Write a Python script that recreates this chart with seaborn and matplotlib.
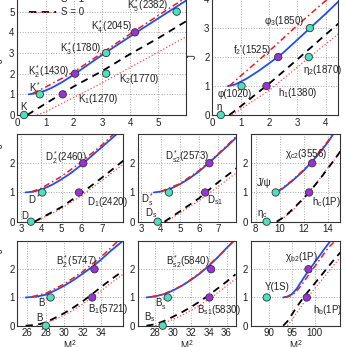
import matplotlib
matplotlib.use("Agg")
import matplotlib.pyplot as plt
import pandas as pd
import seaborn as sns

# Regge trajectories: (M^2, J) pairs
# S = 1: solid blue and dash-dot red, S = 0: dashed black and dotted red
K_S1_SOLID = [(0.4, 1.0), (0.8, 1.08), (1.2, 1.3), (1.6, 1.6), (2.0, 1.95), (3.0, 2.9), (4.0, 3.8), (5.0, 4.68), (6.0, 5.55)]
K_S1_DASHDOT = [(0.55, 1.05), (1.0, 1.35), (2.0, 2.08), (3.0, 3.0), (4.0, 3.92), (5.0, 4.82), (6.0, 5.7)]
K_S0_DASHED = [(0.35, 0.0), (1.0, 0.55), (2.0, 1.38), (3.0, 2.12), (4.0, 2.95), (5.0, 3.72), (6.0, 4.55)]
K_S0_DOTTED = [(0.7, 0.0), (1.0, 0.15), (2.0, 0.85), (3.0, 1.55), (4.0, 2.3), (5.0, 3.05), (6.0, 3.8)]
K_M2 = [0.24, 0.8, 2.05, 3.15, 4.17, 5.65, 1.61, 3.15]
K_J = [0, 1, 2, 3, 4, 5, 1, 2]
K_KIND = ["c", "c", "p", "c", "p", "c", "p", "c"]

ETA_S1_SOLID = [(0.55, 1.0), (0.8, 1.05), (1.2, 1.25), (1.6, 1.5), (2.0, 1.78), (2.5, 2.15), (3.0, 2.6), (3.5, 3.05), (4.0, 3.5), (4.5, 3.97)]
ETA_S1_DASHDOT = [(0.6, 1.0), (1.0, 1.35), (2.0, 2.2), (3.0, 3.1), (4.0, 3.95), (4.5, 4.38)]
ETA_S0_DASHED = [(0.6, 0.0), (1.0, 0.3), (2.0, 1.08), (3.0, 1.92), (4.0, 2.78), (4.5, 3.2)]
ETA_S0_DOTTED = [(0.7, 0.0), (1.0, 0.2), (2.0, 0.85), (3.0, 1.65), (3.4, 1.98), (4.0, 2.45), (4.5, 2.84)]
ETA_M2 = [0.3, 1.03, 2.32, 3.44, 1.91, 3.4]
ETA_J = [0, 1, 2, 3, 1, 2]
ETA_KIND = ["c", "c", "p", "c", "p", "c"]

D_S1_SOLID = [(3.2, 1.0), (3.6, 1.03), (4.0, 1.1), (4.5, 1.25), (5.0, 1.45), (5.5, 1.68), (6.0, 1.95), (6.5, 2.25), (7.0, 2.55), (7.5, 2.85), (7.75, 3.0)]
D_S1_DASHDOT = [(3.5, 1.02), (4.0, 1.15), (5.0, 1.55), (6.0, 2.05), (7.0, 2.62), (7.6, 3.0)]
D_S0_DASHED = [(3.65, 0.0), (4.0, 0.13), (5.0, 0.5), (6.0, 0.98), (7.0, 1.5), (8.1, 2.1)]
D_S0_DOTTED = [(3.7, 0.0), (5.0, 0.45), (6.0, 0.9), (7.0, 1.4), (8.1, 1.98)]
D_M2 = [3.48, 4.04, 6.08, 5.87]
D_J = [0, 1, 2, 1]
D_KIND = ["c", "c", "p", "p"]

DS_S1_SOLID = [(3.65, 1.0), (4.0, 1.03), (4.5, 1.12), (5.0, 1.28), (5.5, 1.48), (6.0, 1.72), (6.5, 2.0), (7.0, 2.3), (7.5, 2.6), (8.0, 2.92)]
DS_S1_DASHDOT = [(4.0, 1.03), (5.0, 1.3), (6.0, 1.75), (7.0, 2.32), (8.0, 2.95)]
DS_S0_DASHED = [(4.2, 0.0), (5.0, 0.35), (6.0, 0.8), (6.35, 1.0), (7.0, 1.35), (8.0, 1.85)]
DS_S0_DOTTED = [(4.3, 0.0), (5.0, 0.3), (6.0, 0.72), (7.0, 1.2), (8.0, 1.7)]
DS_M2 = [3.85, 4.44, 6.54, 6.32]
DS_J = [0, 1, 2, 1]
DS_KIND = ["c", "c", "p", "p"]

CC_S1_SOLID = [(9.67, 1.0), (10.2, 1.12), (11.0, 1.38), (12.0, 1.75), (13.0, 2.2), (14.0, 2.72), (14.45, 3.0)]
CC_S1_DASHDOT = [(9.8, 1.02), (11.0, 1.4), (12.0, 1.78), (13.0, 2.24), (14.0, 2.76), (14.4, 3.0)]
CC_S0_DASHED = [(9.75, 0.0), (10.5, 0.2), (11.5, 0.6), (12.45, 1.0), (13.5, 1.55), (14.5, 2.1), (15.1, 2.45)]
CC_S0_DOTTED = [(9.9, 0.0), (11.0, 0.35), (12.0, 0.8), (13.0, 1.3), (14.0, 1.85), (15.1, 2.4)]
CC_M2 = [8.92, 9.67, 12.69, 12.44]
CC_J = [0, 1, 2, 1]
CC_KIND = ["c", "c", "p", "p"]

B_S1_SOLID = [(25.8, 1.0), (27.0, 1.03), (28.0, 1.1), (29.0, 1.25), (30.0, 1.42), (31.0, 1.62), (32.0, 1.85), (33.0, 2.08), (34.0, 2.35), (35.0, 2.65), (36.5, 3.05)]
B_S1_DASHDOT = [(26.5, 1.03), (28.0, 1.15), (30.0, 1.48), (32.0, 1.92), (34.0, 2.45), (35.8, 3.0)]
B_S0_DASHED = [(25.8, 0.0), (27.0, 0.03), (28.0, 0.12), (29.0, 0.28), (30.0, 0.45), (31.0, 0.65), (32.0, 0.87), (33.0, 1.12), (34.0, 1.38), (35.0, 1.63), (36.5, 1.98)]
B_S0_DOTTED = [(27.0, 0.0), (28.0, 0.08), (29.0, 0.22), (30.0, 0.38), (31.0, 0.56), (32.0, 0.77), (33.0, 1.0), (34.0, 1.24), (35.0, 1.5), (36.5, 1.86)]
B_M2 = [27.98, 28.5, 33.25, 33.0]
B_J = [0, 1, 2, 1]
B_KIND = ["c", "c", "p", "p"]

BS_S1_SOLID = [(27.0, 1.0), (28.0, 1.04), (29.0, 1.12), (30.0, 1.25), (31.0, 1.42), (32.0, 1.62), (33.0, 1.85), (34.0, 2.12), (35.0, 2.42), (36.0, 2.75), (36.8, 3.0)]
BS_S1_DASHDOT = [(27.5, 1.02), (29.0, 1.12), (31.0, 1.42), (33.0, 1.86), (35.0, 2.43), (36.8, 3.0)]
BS_S0_DASHED = [(27.0, 0.0), (28.0, 0.05), (29.0, 0.17), (30.0, 0.32), (31.0, 0.48), (32.0, 0.66), (33.0, 0.86), (34.0, 1.08), (35.0, 1.32), (36.0, 1.56), (37.0, 1.82)]
BS_S0_DOTTED = [(28.0, 0.0), (29.0, 0.1), (30.0, 0.22), (31.0, 0.37), (32.0, 0.54), (33.0, 0.73), (34.0, 0.94), (35.0, 1.17), (36.0, 1.41), (37.0, 1.66)]
BS_M2 = [28.83, 29.4, 34.26, 34.07]
BS_J = [0, 1, 2, 1]
BS_KIND = ["c", "c", "p", "p"]

BB_S1_SOLID = [(93.1, 1.0), (94.0, 1.03), (95.0, 1.12), (96.0, 1.3), (97.0, 1.55), (98.0, 1.8), (99.0, 2.03), (100.0, 2.25), (101.0, 2.47), (102.0, 2.7), (103.4, 3.0)]
BB_S1_DASHDOT = [(93.5, 1.0), (95.0, 1.08), (96.0, 1.22), (97.0, 1.42), (98.0, 1.65), (99.0, 1.88), (100.0, 2.1), (101.0, 2.32), (102.0, 2.55), (103.0, 2.77), (104.4, 3.0)]
BB_S0_DASHED = [(93.1, 0.0), (94.0, 0.15), (95.0, 0.4), (96.0, 0.65), (97.0, 0.88), (98.0, 1.1), (99.0, 1.3), (100.0, 1.5), (101.0, 1.7), (102.0, 1.9), (103.0, 2.1), (104.0, 2.3), (105.6, 2.6)]
BB_S0_DOTTED = [(94.0, 0.0), (95.0, 0.2), (96.0, 0.45), (97.0, 0.68), (98.0, 0.9), (99.0, 1.12), (100.0, 1.32), (101.0, 1.52), (102.0, 1.72), (103.0, 1.92), (104.0, 2.12), (105.6, 2.42)]
BB_M2 = [89.5, 98.6, 98.25]
BB_J = [1, 2, 1]
BB_KIND = ["c", "p", "p"]

# state labels: (text, M^2, J) where the text starts
K_LABELS = [("K", 0.1, 0.38), ("K$^*$", 0.43, 1.35), ("K$_2^*$(1430)", 0.38, 2.1), ("K$_3^*$(1780)", 1.5, 3.2),
            ("K$_4^*$(2045)", 2.63, 4.27), ("K$_5^*$(2382)", 3.9, 5.3), ("K$_2$(1770)", 3.6, 1.74), ("K$_1$(1270)", 2.14, 0.77)]
ETA_LABELS = [("η", 0.15, 0.29), ("φ(1020)", 0.19, 0.71), ("f$_2$'(1525)", 0.72, 2.24), ("φ$_3$(1850)", 1.82, 3.25),
              ("η$_2$(1870)", 3.18, 1.55), ("h$_1$(1380)", 2.32, 0.75)]
D_LABELS = [("D", 2.98, 0.19), ("D$^*$", 3.35, 0.77), ("D$_2^*$(2460)", 4.18, 2.2), ("D$_1$(2420)", 6.28, 0.68)]
DS_LABELS = [("D$_\\mathrm{s}$", 3.19, 0.3), ("D$_\\mathrm{s}^*$", 3.0, 0.76), ("D$_\\mathrm{s2}^*$(2573)", 4.23, 2.24),
             ("D$_\\mathrm{s1}$", 6.44, 0.74)]
CC_LABELS = [("η$_\\mathrm{c}$", 8.1, 0.25), ("J/ψ", 8.1, 1.31), ("χ$_\\mathrm{c2}$(3556)", 10.43, 2.3), ("h$_\\mathrm{c}$(1P)", 12.7, 0.68)]
B_LABELS = [("B", 26.9, 0.26), ("B$^*$", 27.1, 0.84), ("B$_2^*$(5747)", 29.05, 2.27), ("B$_1$(5721)", 32.5, 0.58)]
BS_LABELS = [("B$_\\mathrm{s}$", 26.7, 0.3), ("B$_\\mathrm{s}^*$", 28.0, 0.8), ("B$_\\mathrm{s2}^*$(5840)", 29.2, 2.27),
             ("B$_\\mathrm{s1}$(5830)", 32.7, 0.55)]
BB_LABELS = [("Υ(1S)", 89.1, 1.38), ("χ$_\\mathrm{b2}$(1P)", 93.5, 2.43), ("h$_\\mathrm{b}$(1P)", 99.6, 0.55)]

W, H = 346, 347

sns.set_style("white")
plt.rcParams["font.family"] = ["Liberation Sans", "DejaVu Sans"]
plt.rcParams["mathtext.fontset"] = "custom"
plt.rcParams["mathtext.rm"] = "Liberation Sans"
plt.rcParams["mathtext.it"] = "Liberation Sans:italic"
plt.rcParams["font.size"] = 7

COL = {"c": "#4de0bd", "p": "#9a32d8"}

# pixel boxes (left, top, right, bottom), limits, ticks
panels = [
    (K_S1_SOLID, K_S1_DASHDOT, K_S0_DASHED, K_S0_DOTTED, K_M2, K_J, K_KIND, K_LABELS,
     (17.3, -9, 185.7, 115), (0, 5.97), (0, 6), range(0, 6), range(0, 6)),
    (ETA_S1_SOLID, ETA_S1_DASHDOT, ETA_S0_DASHED, ETA_S0_DOTTED, ETA_M2, ETA_J, ETA_KIND, ETA_LABELS,
     (212.3, -9, 338, 115), (0, 4.43), (0, 4.28), range(0, 5), range(0, 5)),
    (D_S1_SOLID, D_S1_DASHDOT, D_S0_DASHED, D_S0_DOTTED, D_M2, D_J, D_KIND, D_LABELS,
     (17.3, 134, 123, 221.7), (2.8, 8.06), (0, 3), range(3, 8), range(0, 3)),
    (DS_S1_SOLID, DS_S1_DASHDOT, DS_S0_DASHED, DS_S0_DOTTED, DS_M2, DS_J, DS_KIND, DS_LABELS,
     (137.5, 134, 235.5, 221.7), (2.8, 7.9), (0, 3), range(3, 8), range(0, 3)),
    (CC_S1_SOLID, CC_S1_DASHDOT, CC_S0_DASHED, CC_S0_DOTTED, CC_M2, CC_J, CC_KIND, CC_LABELS,
     (250.7, 134, 340, 221.7), (7.6, 15), (0, 3), range(8, 15, 2), range(0, 3)),
    (B_S1_SOLID, B_S1_DASHDOT, B_S0_DASHED, B_S0_DOTTED, B_M2, B_J, B_KIND, B_LABELS,
     (17.3, 241, 122.7, 325.7), (24.9, 36.3), (0, 3), range(26, 35, 2), range(0, 3)),
    (BS_S1_SOLID, BS_S1_DASHDOT, BS_S0_DASHED, BS_S0_DOTTED, BS_M2, BS_J, BS_KIND, BS_LABELS,
     (137.5, 241, 235.5, 325.7), (26, 37), (0, 3), range(28, 37, 2), range(0, 3)),
    (BB_S1_SOLID, BB_S1_DASHDOT, BB_S0_DASHED, BB_S0_DOTTED, BB_M2, BB_J, BB_KIND, BB_LABELS,
     (250.7, 241, 340, 325.7), (86, 105.5), (0, 3), range(90, 101, 5), range(0, 3)),
]

ylabel_pos = {0: (-0.073, 0.44), 1: (-0.114, 0.47), 2: (-0.116, 0.87), 5: (-0.117, 0.89)}

fig = plt.figure(figsize=(W / 100, H / 100), dpi=100)
axes = []
for i, (s1a, s1b, s0a, s0b, m2, jj, kind, labels, box, xlim, ylim, xt, yt) in enumerate(panels):
    l, t, r, b = box
    ax = fig.add_axes([l / W, 1 - b / H, (r - l) / W, (b - t) / H])
    axes.append(ax)

    curves = [
        (s0b, dict(color="#ff4a4a", lw=0.9, linestyle=":")),
        (s0a, dict(color="black", lw=1.3, linestyle="--", dashes=(4, 3))),
        (s1a, dict(color="#1f4ff5", lw=1.3, linestyle="-")),
        (s1b, dict(color="#ee1c1c", lw=1.1, linestyle="-.", dashes=(4, 2, 1, 2))),
    ]
    for pts, style in curves:
        df = pd.DataFrame(pts, columns=["m2", "j"])
        dashes = style.pop("dashes", None)
        sns.lineplot(data=df, x="m2", y="j", sort=False, estimator=None, ax=ax, **style)
        if dashes is not None:
            ax.lines[-1].set_dashes(dashes)

    states = pd.DataFrame({"m2": m2, "j": jj, "kind": kind})
    sns.scatterplot(data=states, x="m2", y="j", hue="kind", palette=COL, s=28, edgecolor="#333333",
                    linewidth=0.6, ax=ax, legend=False, zorder=5, clip_on=False)

    for txt, x, y in labels:
        ax.text(x, y, txt, ha="left", va="center", fontsize=7, color="#222222")

    ax.set_xlim(*xlim)
    ax.set_ylim(*ylim)
    ax.set_xticks(list(xt))
    ax.set_yticks(list(yt))
    ax.tick_params(direction="in", length=2.5, width=0.6, labelsize=7, pad=2, colors="#222222")
    ax.grid(True, linestyle=":", color="#aaaaaa", lw=0.7)
    for sp in ax.spines.values():
        sp.set_color("#333333")
        sp.set_linewidth(0.8)
    ax.set_xlabel("")
    ax.set_ylabel("")
    if i in ylabel_pos:
        ax.set_ylabel("J", fontsize=7)
        ax.yaxis.set_label_coords(*ylabel_pos[i])
    if i >= 5:
        ax.set_xlabel("M$^2$", fontsize=7)
        ax.xaxis.set_label_coords(0.5, -0.15)

# legend in the K panel
ax = axes[0]
h1 = ax.lines[3]
h0 = (ax.lines[1], ax.lines[0])
ax.legend([h1, h0], ["S = 1", "S = 0"], loc="center left", bbox_to_anchor=(0.04, 0.882), frameon=False,
          handlelength=2.8, handletextpad=0.5, labelspacing=0.3, borderpad=0, fontsize=7)

fig.savefig("out.png", dpi=100)
